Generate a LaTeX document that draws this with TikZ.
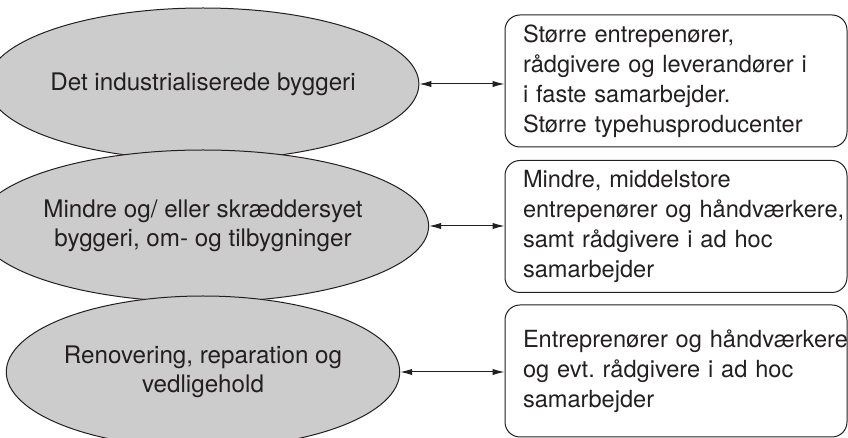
\documentclass[tikz,border=0pt]{standalone}
\usepackage{fontspec}
\setmainfont{TeX Gyre Heros}
\usepackage{xcolor}
\usetikzlibrary{shapes.geometric}
\usetikzlibrary{arrows.meta}
\definecolor{sectorgray}{HTML}{CCCCCC}
\definecolor{inkblack}{HTML}{231F20}
\frenchspacing
\tikzset{
thinline/.style={line width=0.5pt},
sector/.style={
	ellipse, draw=inkblack, fill=sectorgray, thinline,
	minimum width=191pt, minimum height=76pt, inner sep=0pt,
	align=center, text=inkblack, font=\fontsize{12.1}{14.5}\selectfont
},
actors/.style={
	draw=inkblack, rounded corners=7.5pt, thinline,
	minimum height=66pt, text width=153pt, inner xsep=9pt, inner ysep=1pt,
	align=left, text=inkblack, font=\fontsize{11.8}{15}\selectfont
},
biarrow/.style={
	{Latex[length=6pt,width=3.2pt]}-{Latex[length=6pt,width=3.2pt]},
	draw=inkblack, thinline
},
}

\begin{document}
\begin{tikzpicture}[x=0.5pt, y=-0.5pt]
\useasboundingbox (0,0) rectangle (848,438);
\clip (0,0) rectangle (848,438);
%Place the nodes
\node[sector] (s1) at (203,84) {Det industrialiserede byggeri};
\node[sector] (s2) at (203,226) {Mindre og/ eller skræddersyet\\byggeri, om- og tilbygninger};
\node[sector] (s3) at (203,372) {Renovering, reparation og\\vedligehold};

\node[actors] (a1) at (676,81) {Større entrepenører,\\rådgivere og leverandører i\\i faste samarbejder.\\Større typehusproducenter};
\node[actors] (a2) at (676,226.5) {Mindre, middelstore\\\mbox{entrepenører og håndværkere,}\\samt rådgivere i ad hoc\\samarbejder};
\node[actors] (a3) at (676,371) {\mbox{Entreprenører og håndværkere}\\og evt. rådgivere i ad hoc\\samarbejder};

%Connect sectors and actors
\foreach \i in {1, 2, 3} {
	\draw[biarrow] (s\i.east) to (s\i.east -| a\i.west);
}
\end{tikzpicture}
\end{document}
